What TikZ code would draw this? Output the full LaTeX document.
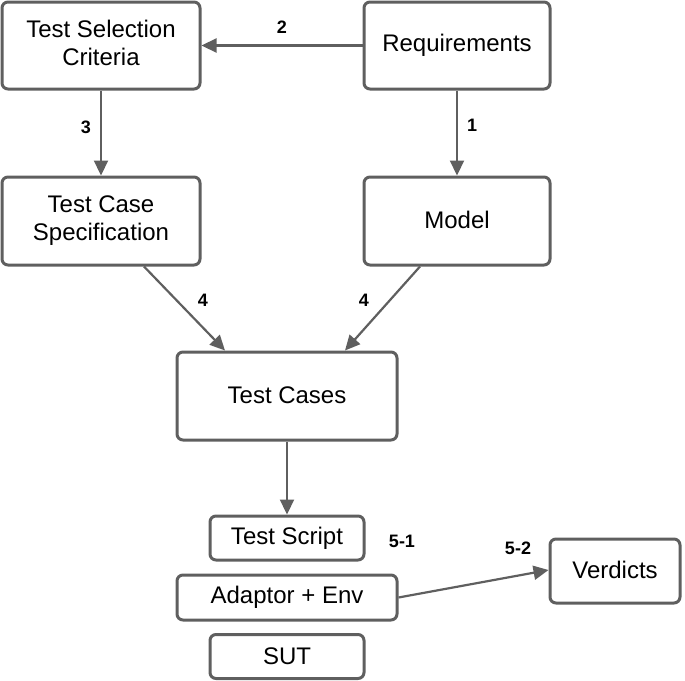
\documentclass[tikz,border=0pt]{standalone}
\usepackage{fontspec}
\setmainfont{Liberation Sans}
\usetikzlibrary{arrows.meta}
\definecolor{linegray}{HTML}{5F5F5F}
\newcommand{\twolines}[2]{\begin{tabular}{@{}c@{}}#1\\#2\end{tabular}}
\tikzset{
  box/.style={draw=linegray, line width=3pt, rounded corners=6pt, fill=white,
    inner sep=0pt, align=center, font=\fontsize{24}{28}\selectfont},
  conn/.style={draw=linegray, line width=2.2pt,
    -{Triangle[length=15pt,width=14pt]}},
  num/.style={font=\bfseries\fontsize{18}{20}\selectfont, inner sep=0pt}
}
\begin{document}
\begin{tikzpicture}[x=1pt,y=-1pt]
\useasboundingbox (0,0) rectangle (685,680);
\node[box, minimum width=198pt, minimum height=87pt] (tsc) at (101,45.5) {\raisebox{4pt}{\twolines{Test Selection}{Criteria}}};
\node[box, minimum width=186pt, minimum height=87pt] (req) at (457,45.5) {\raisebox{2pt}{Requirements}};
\node[box, minimum width=198pt, minimum height=88pt] (tcs) at (101,221) {\raisebox{3pt}{\twolines{Test Case}{Specification}}};
\node[box, minimum width=186pt, minimum height=88pt] (model) at (457,221) {\raisebox{3pt}{Model}};
\node[box, minimum width=220pt, minimum height=88pt] (tc) at (287,396) {\raisebox{2pt}{Test Cases}};
\node[box, minimum width=154pt, minimum height=44pt] (ts) at (287,538) {\raisebox{-3pt}{Test Script}};
\node[box, minimum width=220pt, minimum height=45pt] (ae) at (287,597.5) {\raisebox{-2pt}{Adaptor + Env}};
\node[box, minimum width=154pt, minimum height=44pt] (sut) at (287,656.5) {\raisebox{-2pt}{SUT}};
\node[box, minimum width=130pt, minimum height=64pt] (ver) at (615,571) {\raisebox{3pt}{Verdicts}};

\draw[conn] (req.west) -- (tsc.east);
\draw[conn] (tsc.south) -- (tcs.north);
\draw[conn] (req.south) -- (model.north);
\draw[conn] ([xshift=43pt]tcs.south) -- ([xshift=-62pt]tc.north);
\draw[conn] ([xshift=-37pt]model.south) -- ([xshift=58pt]tc.north);
\draw[conn] (tc.south) -- (ts.north);
\draw[conn] (ae.east) -- ([yshift=1pt]ver.west);

\node[num] (l2) at (282,27) {2};
\node[num] (l3) at (86,127) {3};
\node[num] (l1) at (472,125) {1};
\node[num] (l4a) at (203,300) {4};
\node[num] (l4b) at (364,300) {4};
\node[num] (l51) at (402,541) {5-1};
\node[num] (l52) at (518,548) {5-2};
\end{tikzpicture}
\end{document}
